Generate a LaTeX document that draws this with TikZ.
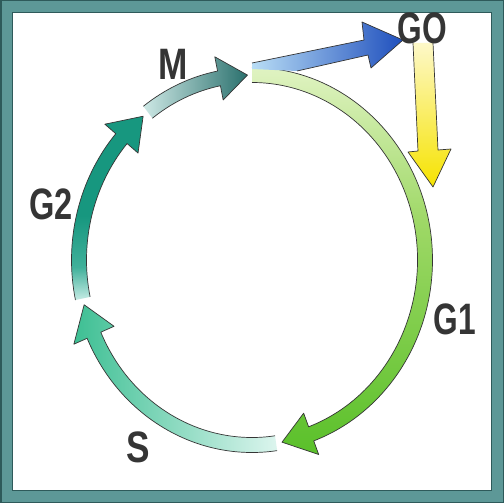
\documentclass[tikz,border=0pt]{standalone}
\usepackage{fontspec}
\setmainfont{Liberation Sans}
\usepackage{graphicx}
\definecolor{frame}{HTML}{5D9897}
\definecolor{framedark}{HTML}{2E5A5A}
\definecolor{g1l}{HTML}{E0F3C2}
\definecolor{g1m}{HTML}{9ED866}
\definecolor{g1d}{HTML}{5AC02A}
\definecolor{sl}{HTML}{DCF5EE}
\definecolor{sm}{HTML}{86D9BD}
\definecolor{sd}{HTML}{3DBF93}
\definecolor{g2l}{HTML}{C6ECE5}
\definecolor{g2m}{HTML}{40B09A}
\definecolor{g2d}{HTML}{17977F}
\definecolor{ml}{HTML}{CDE8E5}
\definecolor{mm}{HTML}{6AA6A2}
\definecolor{md}{HTML}{2A706D}
\definecolor{bl}{HTML}{B8DDF5}
\definecolor{bm}{HTML}{6A9FE0}
\definecolor{bd}{HTML}{1F4FBD}
\definecolor{yl}{HTML}{FDF8C8}
\definecolor{ym}{HTML}{FAEE70}
\definecolor{yd}{HTML}{F6E300}
\definecolor{ink}{HTML}{353535}
\pgfdeclareverticalshading{gtwoshade}{100bp}{color(0bp)=(g2l); color(25bp)=(g2l); color(34bp)=(g2m); color(48bp)=(g2d); color(100bp)=(g2d)}
\pgfdeclareverticalshading{goneshade}{100bp}{color(0bp)=(g1d); color(25bp)=(g1d); color(55bp)=(g1m); color(75bp)=(g1l); color(100bp)=(g1l)}
\newcommand\cycarrow[4]{%
  \path[#4] (#1:180.5 and 192.5) arc[start angle=#1,end angle=#2,x radius=180.5,y radius=192.5]
   -- (#2:195 and 207) -- (#3:173 and 185) -- (#2:151 and 163) -- (#2:165.5 and 177.5)
   arc[start angle=#2,end angle=#1,x radius=165.5,y radius=177.5] -- cycle;
  \draw[outl] (#1:180.5 and 192.5) arc[start angle=#1,end angle=#2,x radius=180.5,y radius=192.5]
   -- (#2:195 and 207) -- (#3:173 and 185) -- (#2:151 and 163) -- (#2:165.5 and 177.5)
   arc[start angle=#2,end angle=#1,x radius=165.5,y radius=177.5];
}
\tikzset{
  outl/.style={draw=ink, line width=0.7pt, line join=round},
  lab/.style={text=ink, font=\fontsize{44}{44}\selectfont\bfseries, inner sep=0pt}
}
\begin{document}
\begin{tikzpicture}[x=1pt,y=-1pt]
\useasboundingbox (0,0) rectangle (504,503);
% frame
\fill[frame] (0,0) rectangle (504,503);
\draw[framedark, line width=1.5pt] (0.75,0.75) rectangle (503.25,502.25);
\fill[white] (12,12) rectangle (491,490);
\draw[framedark, line width=0.8pt] (12,12) rectangle (491,490);
% cycle arrows
\begin{scope}[shift={(252,260)}]
  \cycarrow{-90}{70}{80}{shading=goneshade}
  \cycarrow{82}{156}{166}{left color=sd, middle color=sm, right color=sl}
  \cycarrow{168}{221}{231}{shading=gtwoshade}
  \cycarrow{233}{259}{268.5}{left color=ml, middle color=mm, right color=md}
\end{scope}
% G0 arrow (blue)
\path[left color=bl, middle color=bm, right color=bd]
  (252,63) -- (364,40) -- (362,22) -- (403,40) -- (371,68) -- (368,55) -- (297,71) -- (252,69) -- cycle;
\draw[outl] (252,63) -- (364,40) -- (362,22) -- (403,40) -- (371,68) -- (368,55) -- (297,71);
% yellow arrow
\path[top color=yl, middle color=ym, bottom color=yd]
  (413,43) -- (418,151) -- (408,152) -- (433,187) -- (451,149) -- (438,150) -- (433,43) -- cycle;
\draw[outl] (413,43) -- (418,151) -- (408,152) -- (433,187) -- (451,149) -- (438,150) -- (433,43);
% labels
\node[lab] (lm) at (173,64) {\scalebox{0.8}[1]{M}};
\node[lab] (lg0) at (422,28) {\scalebox{0.72}[1]{GO}};
\node[lab] (lg2) at (51,204) {\scalebox{0.74}[1]{G2}};
\node[lab] (lg1) at (455,319) {\scalebox{0.72}[1]{G1}};
\node[lab] (ls) at (138,447) {\scalebox{0.8}[1]{S}};
\end{tikzpicture}
\end{document}
